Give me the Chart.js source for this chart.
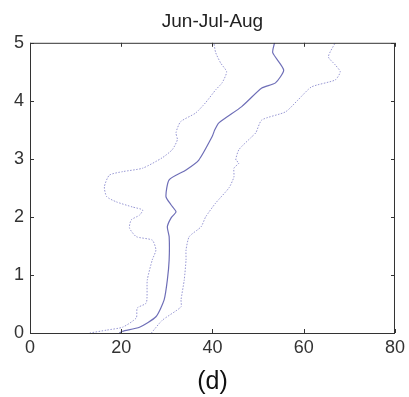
<!DOCTYPE html>
<html>
<head>
<meta charset="utf-8">
<script src="https://cdn.jsdelivr.net/npm/chart.js@4/dist/chart.umd.min.js"></script>
<style>
    html, body { margin: 0; padding: 0; background: #fff; }
    #wrap { width: 409px; height: 397px; }
</style>
</head>
<body>
<div id="wrap"><canvas id="season-chart" width="409" height="397"></canvas></div>
<script>
// values (x = value, y = height)
const meanX = [19.6, 20.3, 24.0, 27.6, 29.4, 30.1, 30.5, 30.5, 30.1, 30.9, 32.0, 30.9, 29.8, 30.5, 34.2, 37.0, 39.9, 40.5, 41.4, 46.4, 50.8, 53.8, 55.6, 53.2, 53.6];
const meanY = [0.0, 0.03, 0.10, 0.28, 0.57, 0.91, 1.26, 1.66, 1.83, 1.98, 2.09, 2.21, 2.35, 2.64, 2.81, 2.98, 3.38, 3.50, 3.62, 3.90, 4.22, 4.31, 4.53, 4.83, 5.0];

const lowerX = [13.1, 16.8, 20.3, 23.3, 23.5, 25.5, 25.7, 26.8, 27.6, 26.8, 23.3, 21.8, 22.2, 24.0, 24.7, 22.5, 18.9, 16.8, 16.3, 17.4, 20.3, 24.7, 29.0, 31.2, 32.3, 32.0, 33.0, 36.3, 38.5, 40.7, 42.1, 43.1, 41.8, 40.7, 40.3];
const lowerY = [0.0, 0.05, 0.10, 0.26, 0.43, 0.52, 0.91, 1.26, 1.43, 1.60, 1.66, 1.81, 1.95, 2.03, 2.12, 2.17, 2.26, 2.35, 2.52, 2.72, 2.78, 2.84, 3.02, 3.16, 3.33, 3.45, 3.64, 3.79, 3.97, 4.19, 4.31, 4.50, 4.65, 4.83, 5.0];

const upperX = [26.6, 29.0, 33.1, 33.1, 33.8, 34.2, 34.2, 34.9, 37.5, 38.5, 40.7, 43.6, 44.7, 44.7, 45.8, 45.1, 45.8, 48.6, 49.5, 50.8, 56.0, 58.8, 61.7, 66.9, 68.0, 66.9, 65.4, 66.9];
const upperY = [0.0, 0.22, 0.45, 0.57, 0.91, 1.26, 1.43, 1.66, 1.83, 2.00, 2.24, 2.50, 2.69, 2.84, 2.93, 2.98, 3.16, 3.38, 3.45, 3.67, 3.81, 4.02, 4.24, 4.36, 4.50, 4.62, 4.76, 5.0];

const xTicks = [0, 20, 40, 60, 80];
const yTicks = [0, 1, 2, 3, 4, 5];

function toPoints(xs, ys) {
    return xs.map((x, i) => ({ x: x, y: ys[i] }));
}

// matlab style box with ticks pointing inward on all four sides
const boxPlugin = {
    id: 'box',
    afterLayout(chart) {
        // centre the title over the plot box, not the whole canvas
        const a = chart.chartArea;
        const t = chart.titleBlock;
        if (t) {
            t.left = a.left;
            t.right = a.right;
            t.width = a.right - a.left;
        }
    },
    afterDraw(chart) {
        const ctx = chart.ctx;
        const a = chart.chartArea;
        const xs = chart.scales.x;
        const ys = chart.scales.y;
        ctx.save();
        ctx.strokeStyle = '#333';
        ctx.lineWidth = 1;
        ctx.strokeRect(a.left + 0.5, a.top + 0.5, a.right - a.left - 1, a.bottom - a.top);
        ctx.beginPath();
        for (let t of xTicks) {
            const px = Math.round(xs.getPixelForValue(t)) + 0.5;
            ctx.moveTo(px, a.bottom); ctx.lineTo(px, a.bottom - 4);
            ctx.moveTo(px, a.top); ctx.lineTo(px, a.top + 4);
        }
        for (let t of yTicks) {
            const py = Math.round(ys.getPixelForValue(t)) + 0.5;
            ctx.moveTo(a.left, py); ctx.lineTo(a.left + 4, py);
            ctx.moveTo(a.right, py); ctx.lineTo(a.right - 4, py);
        }
        ctx.stroke();
        ctx.restore();
    }
};

const ctx = document.getElementById('season-chart');
//eslint-disable-next-line no-undef
new Chart(ctx, {
    type: 'line',
    data: {
        datasets: [{
            label: 'lower',
            data: toPoints(lowerX, lowerY),
            borderColor: 'rgba(125, 125, 200, 0.8)',
            borderWidth: 1,
            borderDash: [1.5, 1.5],
            pointRadius: 0,
            tension: 0.2
        }, {
            label: 'mean',
            data: toPoints(meanX, meanY),
            borderColor: 'rgba(85, 85, 170, 0.85)',
            borderWidth: 1.2,
            pointRadius: 0,
            tension: 0.2
        }, {
            label: 'upper',
            data: toPoints(upperX, upperY),
            borderColor: 'rgba(125, 125, 200, 0.8)',
            borderWidth: 1,
            borderDash: [1.5, 1.5],
            pointRadius: 0,
            tension: 0.2
        }]
    },
    options: {
        responsive: false,
        animation: false,
        layout: { padding: { left: 0, right: 12, top: 0, bottom: 0 } },
        plugins: {
            legend: { display: false },
            tooltip: { enabled: false },
            title: {
                display: true,
                text: 'Jun-Jul-Aug',
                color: '#222',
                font: { family: 'Liberation Sans', size: 19, weight: 'normal' },
                padding: { top: 10, bottom: 10 }
            }
        },
        scales: {
            x: {
                type: 'linear',
                min: 0,
                max: 80,
                afterBuildTicks: (s) => { s.ticks = xTicks.map(v => ({ value: v })); },
                afterFit: (s) => { s.height = 64; },
                grid: { display: false, drawTicks: false },
                border: { display: false },
                ticks: {
                    color: '#333',
                    padding: 4,
                    font: { family: 'Liberation Sans', size: 18 }
                },
                title: {
                    display: true,
                    text: '(d)',
                    color: '#111',
                    padding: { top: 2, bottom: 0 },
                    font: { family: 'Liberation Sans', size: 25 }
                }
            },
            y: {
                type: 'linear',
                min: 0,
                max: 5,
                afterBuildTicks: (s) => { s.ticks = yTicks.map(v => ({ value: v })); },
                afterFit: (s) => { s.width = 30; },
                grid: { display: false, drawTicks: false },
                border: { display: false },
                ticks: {
                    color: '#333',
                    padding: 6,
                    font: { family: 'Liberation Sans', size: 18 }
                }
            }
        }
    },
    plugins: [boxPlugin]
});
</script>
</body>
</html>
